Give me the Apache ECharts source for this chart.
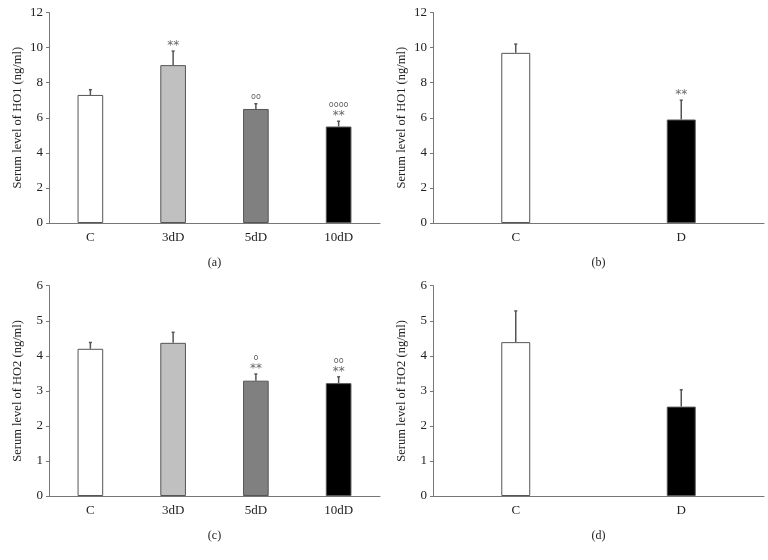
<!DOCTYPE html>
<html><head><meta charset="utf-8">
<script src="https://cdn.jsdelivr.net/npm/echarts@6/dist/echarts.min.js"></script>
<style>html,body{margin:0;padding:0;background:#fff}#c{width:768px;height:560px}</style>
</head><body><div id="c"></div>
<script>
// ---- data ----
const catsTime = ['C', '3dD', '5dD', '10dD'];
const catsCD = ['C', 'D'];
const ho1Time = [7.3, 9.0, 6.5, 5.5];
const ho1TimeErr = [7.6, 9.8, 6.8, 5.8];
const ho1CD = [9.7, 5.9];
const ho1CDErr = [10.2, 7.0];
const ho2Time = [4.2, 4.37, 3.29, 3.22];
const ho2TimeErr = [4.38, 4.67, 3.48, 3.40];
const ho2CD = [4.39, 2.55];
const ho2CDErr = [5.28, 3.03];
const starsA = ['', '**', '', '**'];
const circA = ['', '', 'oo', 'oooo'];
const starsB = ['', '**'];
const circB = ['', ''];
const starsC = ['', '', '**', '**'];
const circC = ['', '', 'o', 'oo'];
const starsD = ['', ''];
const circD = ['', ''];
const ticksHO1 = [0, 12, 2];
const ticksHO2 = [0, 6, 1];

const colsTime = ['#ffffff', '#c0c0c0', '#808080', '#000000'];
const colsCD = ['#ffffff', '#000000'];
const FONT = 'Liberation Serif';

const grids = [
  {left: 49, top: 12.5, width: 331, height: 210.5},
  {left: 433, top: 12.5, width: 331, height: 210.5},
  {left: 49, top: 285.7, width: 331, height: 210.3},
  {left: 433, top: 285.7, width: 331, height: 210.3}
];
const panels = [
  {cats: catsTime, mean: ho1Time, err: ho1TimeErr, stars: starsA, circ: circA, cols: colsTime, ticks: ticksHO1, yname: 'Serum level of HO1 (ng/ml)', tag: '(a)', bw: '31%'},
  {cats: catsCD, mean: ho1CD, err: ho1CDErr, stars: starsB, circ: circB, cols: colsCD, ticks: ticksHO1, yname: 'Serum level of HO1 (ng/ml)', tag: '(b)', bw: '17.5%'},
  {cats: catsTime, mean: ho2Time, err: ho2TimeErr, stars: starsC, circ: circC, cols: colsTime, ticks: ticksHO2, yname: 'Serum level of HO2 (ng/ml)', tag: '(c)', bw: '31%'},
  {cats: catsCD, mean: ho2CD, err: ho2CDErr, stars: starsD, circ: circD, cols: colsCD, ticks: ticksHO2, yname: 'Serum level of HO2 (ng/ml)', tag: '(d)', bw: '17.5%'}
];

const xAxis = [], yAxis = [], series = [];
panels.forEach((p, i) => {
  xAxis.push({
    type: 'category', gridIndex: i, data: p.cats,
    axisLine: {lineStyle: {color: '#777', width: 1}},
    axisTick: {show: false},
    axisLabel: {fontFamily: FONT, fontSize: 13, color: '#222', margin: 8},
    name: p.tag, nameLocation: 'middle', nameGap: 34,
    nameTextStyle: {fontFamily: FONT, fontSize: 12, color: '#222'}
  });
  yAxis.push({
    type: 'value', gridIndex: i, min: p.ticks[0], max: p.ticks[1], interval: p.ticks[2],
    splitLine: {show: false},
    axisLine: {show: true, lineStyle: {color: '#777', width: 1}},
    axisTick: {show: true, length: 3, lineStyle: {color: '#777'}},
    axisLabel: {fontFamily: FONT, fontSize: 13, color: '#222', margin: 6},
    name: p.yname, nameLocation: 'middle', nameGap: 25, nameRotate: 90,
    nameTextStyle: {fontFamily: FONT, fontSize: 12.5, color: '#222'}
  });
  series.push({
    type: 'bar', xAxisIndex: i, yAxisIndex: i, barWidth: p.bw,
    data: p.mean.map((v, k) => ({value: v, itemStyle: {color: p.cols[k], borderColor: '#555', borderWidth: 1}})),
    silent: true
  });
  series.push({
    type: 'custom', xAxisIndex: i, yAxisIndex: i, z: 5, silent: true,
    data: p.mean.map((v, k) => [k, v, p.err[k]]),
    renderItem: function (params, api) {
      const k = params.dataIndex;
      const p0 = api.coord([api.value(0), api.value(1)]);
      const p1 = api.coord([api.value(0), api.value(2)]);
      const ch = [
        {type: 'line', shape: {x1: p0[0], y1: p0[1], x2: p1[0], y2: p1[1]}, style: {stroke: '#555', lineWidth: 1.5}},
        {type: 'line', shape: {x1: p1[0] - 1.5, y1: p1[1], x2: p1[0] + 1.5, y2: p1[1]}, style: {stroke: '#555', lineWidth: 1.5}}
      ];
      let y = p1[1] - 3;
      if (p.stars[k]) {
        ch.push({type: 'text', style: {text: p.stars[k], x: p1[0], y: y + 4, align: 'center', verticalAlign: 'bottom', fontFamily: 'DejaVu Sans', fontSize: 12, fill: '#666'}});
        y -= 9;
      }
      if (p.circ[k]) {
        ch.push({type: 'text', style: {text: p.circ[k], x: p1[0], y: y, align: 'center', verticalAlign: 'bottom', fontFamily: 'DejaVu Sans', fontSize: 8, fill: '#666'}});
      }
      return {type: 'group', children: ch};
    }
  });
});

const chart = echarts.init(document.getElementById('c'), null, {renderer: 'canvas'});
chart.setOption({
  animation: false,
  backgroundColor: '#fff',
  grid: grids,
  xAxis: xAxis,
  yAxis: yAxis,
  series: series
});
</script></body></html>
